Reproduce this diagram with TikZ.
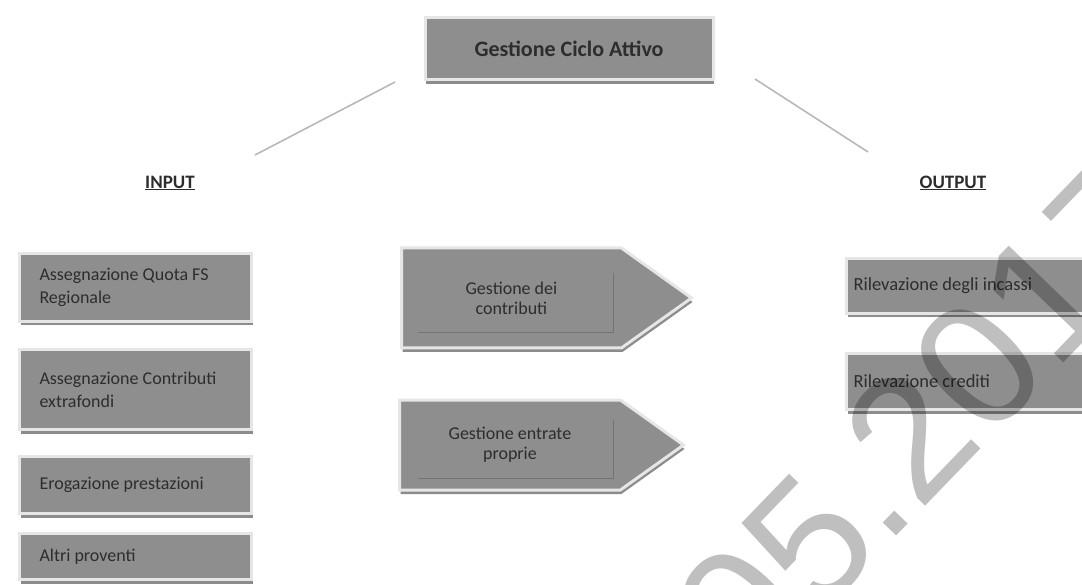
\documentclass[tikz,border=0pt]{standalone}
\usepackage{fontspec}
\setmainfont{Carlito}
\newfontfamily\markfont{Liberation Sans}
\usetikzlibrary{shapes.symbols,shadows}

\definecolor{boxgray}{RGB}{142,142,142}
\definecolor{framegray}{RGB}{230,230,230}
\definecolor{textgray}{RGB}{45,45,45}

\tikzset{
  box/.style={shape=rectangle, fill=boxgray, draw=framegray, line width=3pt,
    text=textgray,
    drop shadow={shadow xshift=1pt, shadow yshift=-4pt, fill=black!45, opacity=1}},
  inbox/.style={box, anchor=north west, minimum width=232pt, text width=192pt,
    align=flush left, inner xsep=20pt, font=\fontsize{18}{23}\selectfont},
  outbox/.style={box, anchor=north west, minimum width=262pt, text width=248pt,
    align=flush left, inner xsep=7pt, font=\fontsize{18.5}{22}\selectfont},
  arrowbox/.style={shape=signal, signal to=east, signal pointer angle=71,
    fill=boxgray, draw=framegray, line width=3pt, text=textgray, align=center,
    font=\fontsize{18}{20}\selectfont,
    drop shadow={shadow xshift=1pt, shadow yshift=-4pt, fill=black!45, opacity=1}},
  heading/.style={text=textgray, font=\bfseries\fontsize{19}{22}\selectfont},
  link/.style={draw=black!28, line width=1.6pt},
  inner line/.style={draw=black!55, line width=1pt}
}

\begin{document}
\begin{tikzpicture}[x=1pt, y=-1pt]
          \useasboundingbox (0,0) rectangle (1082,585);
          \clip (0,0) rectangle (1082,585);

          % top
          \node[box, minimum width=288pt, minimum height=62pt,
          font=\bfseries\fontsize{22}{24}\selectfont] at (569,49)
          (ciclo) {Gestione Ciclo Attivo};

          \coordinate (linL) at (255,155);
          \coordinate (linR) at (868,152);
          \coordinate (ciL) at (395,82);
          \coordinate (ciR) at (755,79);

          \draw[link]
          (ciL) -- (linL)
          (ciR) -- (linR)
          ;

          % headings
          \node[heading] at (170,183) (input) {\underline{INPUT}};
          \node[heading] at (953,183) (output) {\underline{OUTPUT}};

          % input
          \node[inbox, minimum height=68pt] at (18,252)
          (quota) {Assegnazione Quota FS\\Regionale};
          \node[inbox, minimum height=80pt] at (18,348)
          (extra) {Assegnazione Contributi\\extrafondi};
          \node[inbox, minimum height=57pt] at (18,455)
          (eroga) {Erogazione prestazioni};
          \node[inbox, minimum height=46pt] at (18,532)
          (altri) {Altri proventi};

          % process
          \node[arrowbox, minimum width=290pt, minimum height=100pt, anchor=west] at (400,298)
          (contrib) {Gestione dei\\contributi};
          \node[arrowbox, minimum width=284pt, minimum height=90pt, anchor=west] at (398,445)
          (entrate) {Gestione entrate\\proprie};

          \draw[inner line] (418,333) -- (613,333) -- (613,273);
          \draw[inner line] (418,478) -- (613,478) -- (613,420);

          % output
          \node[outbox, minimum height=55pt] at (845,257)
          (incassi) {Rilevazione degli incassi};
          \node[outbox, minimum height=56pt] at (845,352)
          (crediti) {Rilevazione crediti};

          % stamp
          \node[rotate=46, anchor=base west, text=black, text opacity=.25,
          font=\markfont\fontsize{175}{175}\selectfont] at (748,690)
          (stamp) {05.2017};
        \end{tikzpicture}
\end{document}
